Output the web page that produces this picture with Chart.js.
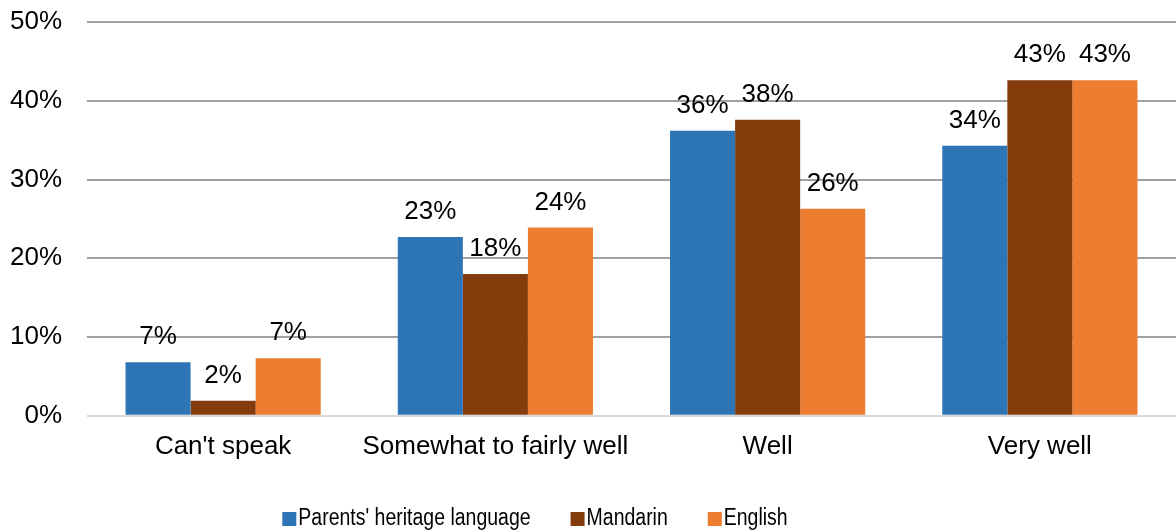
<!DOCTYPE html>
<html>
<head>
<meta charset="utf-8">
<script src="https://cdn.jsdelivr.net/npm/chart.js@4.4.1/dist/chart.umd.min.js"></script>
<style>
html,body{margin:0;padding:0;background:#fff;}
#wrap{width:1176px;height:532px;position:relative;}
</style>
</head>
<body>
<div id="wrap"><canvas id="c" width="1176" height="532"></canvas></div>
<script>
const categories = ["Can't speak", "Somewhat to fairly well", "Well", "Very well"];
const seriesNames = ["Parents' heritage language", "Mandarin", "English"];
const heritageValues = [6.8, 22.7, 36.2, 34.3];
const mandarinValues = [1.9, 18.0, 37.6, 42.6];
const englishValues = [7.3, 23.9, 26.3, 42.6];
const seriesColors = ["#2E75B6", "#843C0C", "#ED7D31"];
const yTicks = [0, 10, 20, 30, 40, 50];

const FONT = "'Liberation Sans', Arial, sans-serif";

const valueLabels = {
  id: 'valueLabels',
  afterDatasetsDraw(chart) {
    const ctx = chart.ctx;
    ctx.save();
    ctx.font = "26px " + FONT;
    ctx.fillStyle = "#000";
    ctx.textAlign = "center";
    ctx.textBaseline = "alphabetic";
    chart.data.datasets.forEach((ds, i) => {
      const meta = chart.getDatasetMeta(i);
      meta.data.forEach((bar, j) => {
        const v = ds.data[j];
        ctx.fillText(Math.round(v) + "%", bar.x, bar.y - 18);
      });
    });
    ctx.restore();
  }
};

const customLegend = {
  id: 'customLegend',
  afterDraw(chart) {
    const ctx = chart.ctx;
    ctx.save();
    ctx.font = "23px " + FONT;
    const sx = 0.847;
    const box = 14, gapText = 2, gapItem = 40;
    const widths = seriesNames.map(n => ctx.measureText(n).width * sx);
    let total = 0;
    widths.forEach((w, i) => { total += box + gapText + w + (i < widths.length - 1 ? gapItem : 0); });
    let x = 535 - total / 2;
    const baseline = 525;
    ctx.textBaseline = "alphabetic";
    ctx.textAlign = "left";
    seriesNames.forEach((n, i) => {
      ctx.fillStyle = seriesColors[i];
      ctx.fillRect(x, 512, box, box);
      ctx.fillStyle = "#000";
      ctx.save();
      ctx.translate(x + box + gapText, baseline);
      ctx.scale(sx, 1);
      ctx.fillText(n, 0, 0);
      ctx.restore();
      x += box + gapText + widths[i] + gapItem;
    });
    ctx.restore();
  }
};

const allSeries = [heritageValues, mandarinValues, englishValues];

new Chart(document.getElementById('c'), {
  type: 'bar',
  data: {
    labels: categories,
    datasets: allSeries.map((vals, i) => ({
      label: seriesNames[i],
      data: vals,
      backgroundColor: seriesColors[i],
      borderWidth: 0,
      categoryPercentage: 0.717,
      barPercentage: 1.0
    }))
  },
  options: {
    responsive: false,
    animation: false,
    devicePixelRatio: 1,
    layout: { padding: { top: 22, left: 10, right: 0, bottom: 55 } },
    plugins: {
      legend: { display: false },
      tooltip: { enabled: false }
    },
    scales: {
      x: {
        grid: { display: false, drawTicks: false },
        border: { display: false },
        ticks: { font: { size: 26, family: FONT }, color: "#000", padding: 15, maxRotation: 0, autoSkip: false }
      },
      y: {
        min: 0, max: 50,
        afterBuildTicks(axis) { axis.ticks = yTicks.map(v => ({ value: v })); },
        afterFit(axis) { axis.width = 77; axis.paddingTop = 0; axis.paddingBottom = 0; },
        grid: {
          drawTicks: false,
          lineWidth: 2,
          color: ctx => (ctx.tick && ctx.tick.value === 0) ? "#d9d9d9" : "#a0a0a0"
        },
        border: { display: false },
        ticks: {
          font: { size: 26, family: FONT }, color: "#000", padding: 25,
          callback: v => v + "%"
        }
      }
    }
  },
  plugins: [valueLabels, customLegend]
});
</script>
</body>
</html>
